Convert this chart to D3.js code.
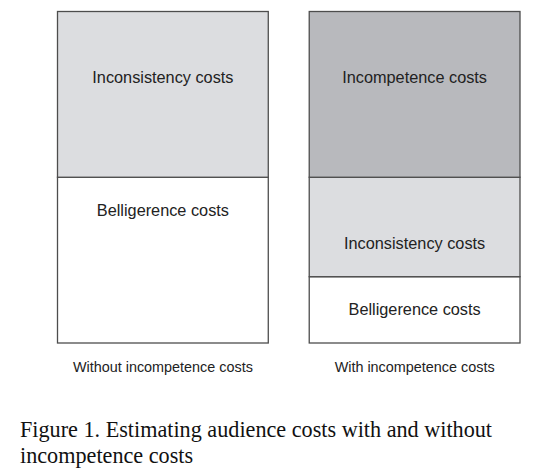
<!DOCTYPE html>
<html>
<head>
<meta charset="utf-8">
<script src="https://cdn.jsdelivr.net/npm/d3@7"></script>
<style>
  body { margin: 0; background: #fff; }
</style>
</head>
<body>
<div class="chart"></div>
<script>
// scenarios (columns) and cost components (stacked from the bottom)
var scenarios = ["Without incompetence costs", "With incompetence costs"];
var components = ["Belligerence costs", "Inconsistency costs", "Incompetence costs"];

// relative size of each component, per scenario
var belligerence = [5, 2];
var inconsistency = [5, 3];
var incompetence = [0, 5];

// where the label sits inside each block (same units as above)
var labelBelligerence = [4, 1];
var labelInconsistency = [8, 3];
var labelIncompetence = [8, 8];

var caption = ["Figure 1. Estimating audience costs with and without", "incompetence costs"];

var svgWidth = 550;
var svgHeight = 476;

var colors = {
  "Belligerence costs": "#ffffff",
  "Inconsistency costs": "#dcdde0",
  "Incompetence costs": "#b8b9bd"
};

var svg = d3.select(".chart")
  .append("svg")
  .attr("width", svgWidth)
  .attr("height", svgHeight);

// build table for d3.stack
var table = scenarios.map(function(s, i) {
  return {
    scenario: s,
    "Belligerence costs": belligerence[i],
    "Inconsistency costs": inconsistency[i],
    "Incompetence costs": incompetence[i]
  };
});
var labelAt = {
  "Belligerence costs": labelBelligerence,
  "Inconsistency costs": labelInconsistency,
  "Incompetence costs": labelIncompetence
};

var series = d3.stack().keys(components)(table);

var x = d3.scaleBand()
  .domain(scenarios)
  .range([57.5, 520])
  .paddingInner(41 / 252)
  .paddingOuter(0);

var total = d3.max(table, d => d3.sum(components, k => d[k]));
var y = d3.scaleLinear()
  .domain([0, total])
  .range([343, 11.5]);

// blocks
var layers = svg.append("g").selectAll("g")
  .data(series)
  .enter()
  .append("g");

layers.selectAll("rect")
  .data(d => d.map(v => ({ key: d.key, lo: v[0], hi: v[1], scenario: v.data.scenario })))
  .enter()
  .filter(d => d.hi > d.lo)
  .append("rect")
  .attr("x", d => x(d.scenario))
  .attr("y", d => y(d.hi))
  .attr("width", x.bandwidth())
  .attr("height", d => y(d.lo) - y(d.hi))
  .attr("fill", d => colors[d.key])
  .attr("stroke", "#4d4d4d")
  .attr("stroke-width", 1.3);

// labels inside blocks
layers.selectAll("text")
  .data(d => d.map((v, i) => ({ key: d.key, lo: v[0], hi: v[1], scenario: v.data.scenario, at: labelAt[d.key][i] })))
  .enter()
  .filter(d => d.hi > d.lo)
  .append("text")
  .attr("x", d => x(d.scenario) + x.bandwidth() / 2)
  .attr("y", d => y(d.at) + 5.5)
  .attr("text-anchor", "middle")
  .attr("font-family", "Liberation Sans, Arial, sans-serif")
  .attr("font-size", "16.3px")
  .attr("fill", "#222")
  .text(d => d.key);

// scenario labels under each column
svg.append("g")
  .attr("transform", "translate(0, 372)")
  .call(d3.axisBottom(x).tickSize(0))
  .call(g => g.select(".domain").remove())
  .selectAll("text")
  .attr("y", 0)
  .attr("dy", 0)
  .attr("font-family", "Liberation Sans, Arial, sans-serif")
  .attr("font-size", "14.4px")
  .attr("fill", "#222");

// figure caption
svg.append("g")
  .selectAll("text")
  .data(caption)
  .enter()
  .append("text")
  .attr("x", 20)
  .attr("y", (d, i) => 437 + i * 26)
  .attr("font-family", "Liberation Serif, 'Times New Roman', serif")
  .attr("font-size", "22.2px")
  .attr("fill", "#111")
  .text(d => d);
</script>
</body>
</html>
